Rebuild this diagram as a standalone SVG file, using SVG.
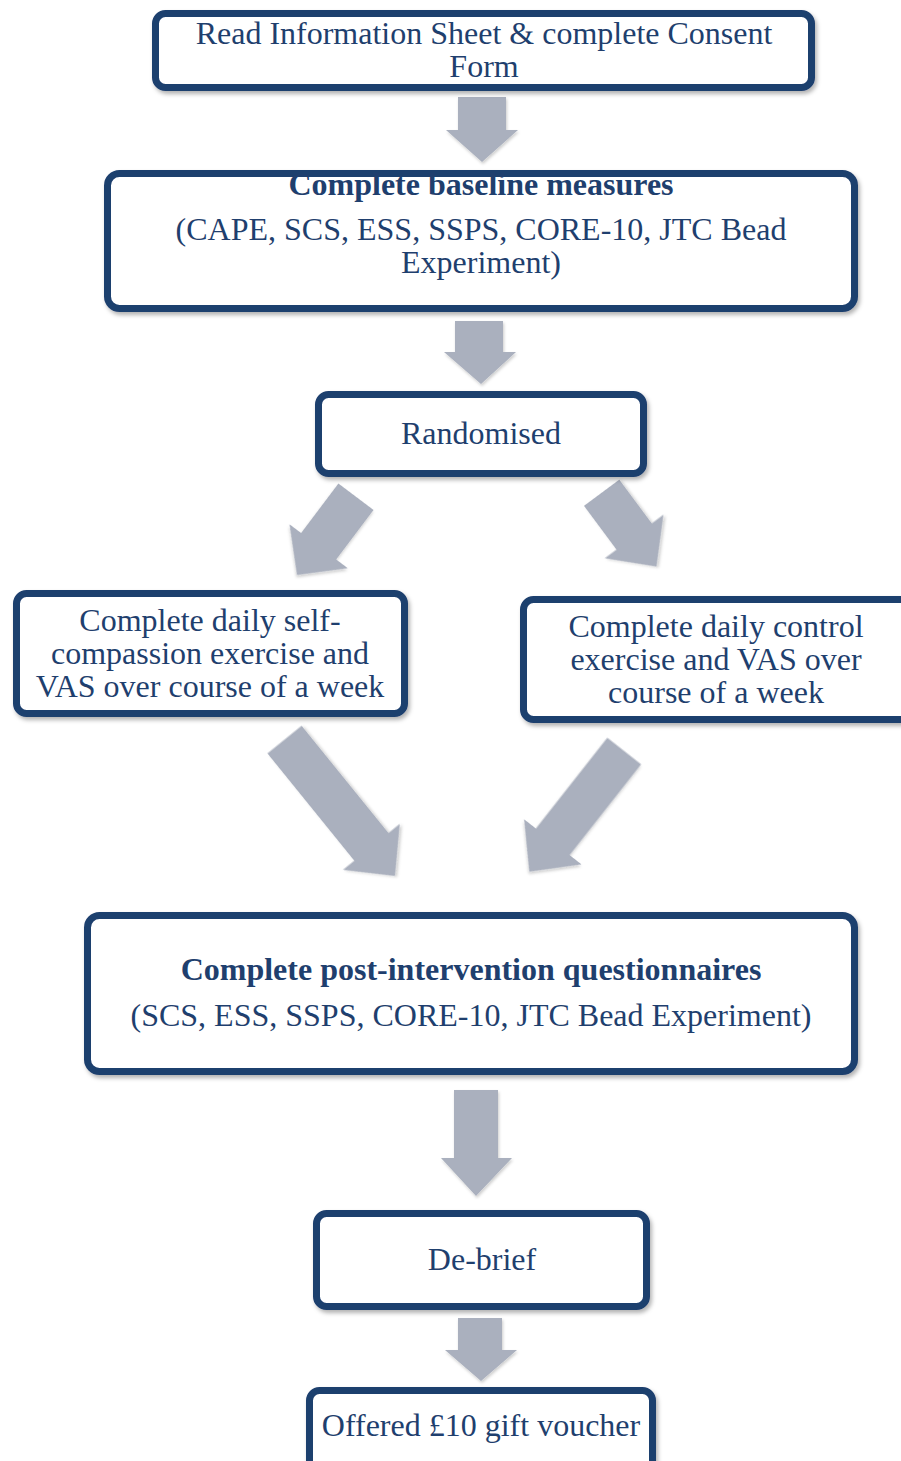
<svg xmlns="http://www.w3.org/2000/svg" width="901" height="1461" viewBox="0 0 901 1461">
<style>
.box{fill:#ffffff;stroke:#1f3f6e;stroke-width:7;filter:url(#sh)}
.t{font-family:"Liberation Serif","Times New Roman",serif;font-size:32px;fill:#1f3f6e;text-anchor:middle}
.b{font-weight:bold}
.arr{fill:#aab0be;filter:url(#sh2)}
</style>
<defs>
<filter id="sh" x="-10%" y="-10%" width="120%" height="130%">
<feDropShadow dx="2" dy="3" stdDeviation="2" flood-color="#000" flood-opacity="0.3"/>
</filter>
<filter id="sh2" x="-20%" y="-20%" width="140%" height="140%">
<feDropShadow dx="1" dy="2" stdDeviation="1.5" flood-color="#000" flood-opacity="0.2"/>
</filter>
</defs>
<rect width="901" height="1461" fill="#ffffff"/>
<g id="connectors">
<polygon class="arr" points="458,97 506,97 506,130 518,130 482,162 446,130 458,130"/>
<polygon class="arr" points="455,321 503,321 503,352 516,352 481,384 444,352 455,352"/>
<polygon class="arr" transform="translate(297,575) rotate(37)" points="-22,-98 22,-98 22,-36 36.5,-36 0,0 -36.5,-36 -22,-36"/>
<polygon class="arr" transform="translate(656.5,566.6) rotate(-36.6)" points="-22,-92 22,-92 22,-37.5 36.5,-37.5 0,0 -36.5,-37.5 -22,-37.5"/>
<polygon class="arr" transform="translate(395,876) rotate(-39)" points="-22,-175.5 22,-175.5 22,-37.6 36.5,-37.6 0,0 -36.5,-37.6 -22,-37.6"/>
<polygon class="arr" transform="translate(529.3,871.7) rotate(38.2)" points="-21.5,-153.4 21.5,-153.4 21.5,-38 36.5,-38 0,0 -36.5,-38 -21.5,-38"/>
<polygon class="arr" points="454,1090 498,1090 498,1158 512,1158 476,1196 441,1158 454,1158"/>
<polygon class="arr" points="458,1318 502,1318 502,1350 517,1350 481,1381 445,1350 458,1350"/>
</g>
<g id="consent">
<rect class="box" x="155.5" y="13.5" width="656" height="74" rx="10"/>
<text class="t" x="484" y="44">Read Information Sheet &amp; complete Consent</text>
<text class="t" x="484" y="77">Form</text>
</g>
<g id="baseline">
<rect class="box" x="107.5" y="173.5" width="747" height="135" rx="12"/>
<text class="t b" x="481" y="195">Complete baseline measures</text>
<text class="t" x="481" y="240">(CAPE, SCS, ESS, SSPS, CORE-10, JTC Bead</text>
<text class="t" x="481" y="273">Experiment)</text>
</g>
<g id="randomised">
<rect class="box" x="318.5" y="394.5" width="325" height="79" rx="10"/>
<text class="t" x="481" y="444">Randomised</text>
</g>
<g id="selfcompassion">
<rect class="box" x="16.5" y="593.5" width="388" height="120" rx="10"/>
<text class="t" x="210" y="631">Complete daily self-</text>
<text class="t" x="210" y="664">compassion exercise and</text>
<text class="t" x="210" y="697">VAS over course of a week</text>
</g>
<g id="control">
<rect class="box" x="523.5" y="599.5" width="420" height="120" rx="10"/>
<text class="t" x="716" y="637">Complete daily control</text>
<text class="t" x="716" y="670">exercise and VAS over</text>
<text class="t" x="716" y="703">course of a week</text>
</g>
<g id="post">
<rect class="box" x="87.5" y="915.5" width="767" height="156" rx="12"/>
<text class="t b" x="471" y="980">Complete post-intervention questionnaires</text>
<text class="t" x="471" y="1026">(SCS, ESS, SSPS, CORE-10, JTC Bead Experiment)</text>
</g>
<g id="debrief">
<rect class="box" x="316.5" y="1213.5" width="330" height="93" rx="10"/>
<text class="t" x="482" y="1270">De-brief</text>
</g>
<g id="voucher">
<rect class="box" x="309.5" y="1390.5" width="343" height="100" rx="10"/>
<text class="t" x="481" y="1436">Offered £10 gift voucher</text>
</g>
</svg>
